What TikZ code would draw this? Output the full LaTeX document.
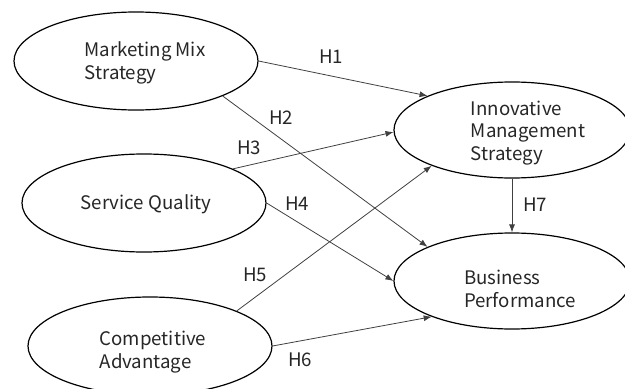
\documentclass[tikz,border=0pt]{standalone}
\usepackage{fontspec}
\setmainfont{Noto Sans CJK SC}
\usetikzlibrary{shapes.geometric,arrows.meta}
\begin{document}
\begin{tikzpicture}[x=0.75pt,y=-0.75pt,
  construct/.style={draw=black,line width=0.9pt,ellipse,inner sep=0pt},
  caption/.style={align=left,font=\fontsize{14pt}{17pt}\selectfont,text=black!85,inner sep=0pt},
  hyp/.style={font=\fontsize{14pt}{16pt}\selectfont,text=black!85,inner sep=0pt},
  path/.style={draw=black!75,line width=0.6pt,-{Latex[length=6pt,width=4.5pt]}}]
\useasboundingbox (0,0) rectangle (625,389);

% latent constructs
\node[construct,minimum width=244pt*0.75,minimum height=98pt*0.75] (mms) at (136,61) {};
\node[construct,minimum width=244pt*0.75,minimum height=98pt*0.75] (sq)  at (144,203) {};
\node[construct,minimum width=244pt*0.75,minimum height=98pt*0.75] (ca)  at (150,346) {};
\node[construct,minimum width=236pt*0.75,minimum height=96pt*0.75] (ims) at (512,130) {};
\node[construct,minimum width=236pt*0.75,minimum height=96pt*0.75] (bp)  at (512,281) {};

% construct names
\node[caption] (mmst) at (145,63) {Marketing Mix\\Strategy};
\node[caption] (sqt)  at (146,204) {Service Quality};
\node[caption] (cat)  at (153,352) {Competitive\\Advantage};
\node[caption] (imst) at (528,133) {Innovative\\Management\\Strategy};
\node[caption] (bpt)  at (520,289) {Business\\Performance};

% hypothesised paths
\draw[path] (mms.east) -- (ims.158);
\draw[path] (mms.-22)  -- (bp.158);
\draw[path] (sq.21)    -- (ims.181);
\draw[path] (sq.east)  -- (bp.west);
\draw[path] (ca.22)    -- (ims.204);
\draw[path] (ca.east)  -- (bp.204);
\draw[path] (ims.south) -- (bp.north);

% path labels
\node[hyp] (h1) at (331,57)  {H1};
\node[hyp] (h2) at (281,118) {H2};
\node[hyp] (h3) at (249,148) {H3};
\node[hyp] (h4) at (297,204) {H4};
\node[hyp] (h5) at (255,275) {H5};
\node[hyp] (h6) at (300,360) {H6};
\node[hyp] (h7) at (535,205) {H7};
\end{tikzpicture}
\end{document}
